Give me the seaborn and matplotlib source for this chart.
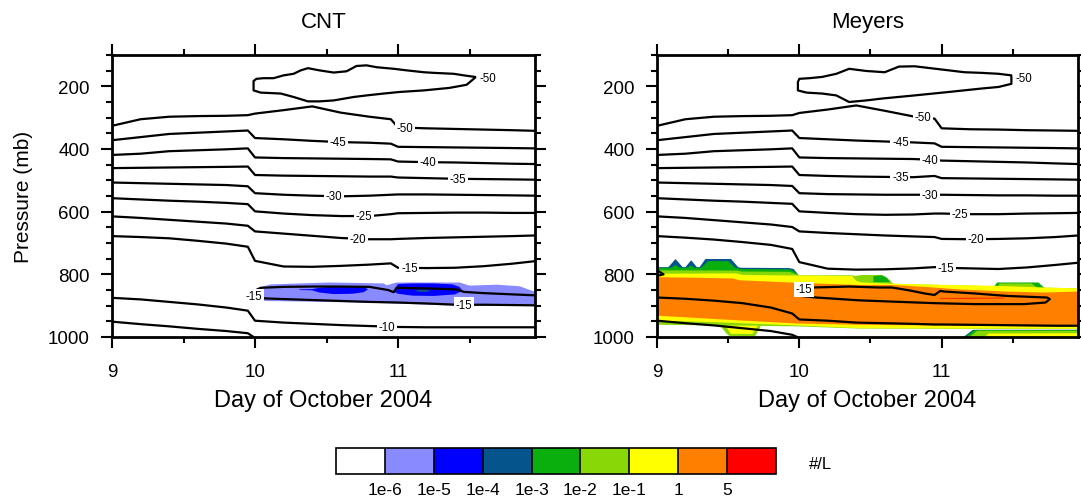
import numpy as np
import matplotlib
matplotlib.use("Agg")
import matplotlib as mpl
import matplotlib.pyplot as plt
from matplotlib.colors import ListedColormap, BoundaryNorm
from matplotlib.ticker import MultipleLocator, FixedLocator
import seaborn as sns

sns.set_theme(style="ticks")
plt.rcParams["font.family"] = ["Liberation Sans", "DejaVu Sans"]
for key in ["text.color", "axes.labelcolor", "xtick.color", "ytick.color", "axes.edgecolor"]:
    plt.rcParams[key] = "black"

# ---------------- data ----------------
days = [9.0, 9.2, 9.4, 9.6, 9.8, 9.95, 10.0, 10.2, 10.4, 10.6, 10.8, 10.95,
        11.0, 11.2, 11.4, 11.6, 11.8, 11.958]

# isotherm pressures (mb) at `days` -- CNT run
cnt_m50 = [326, 305, 297, 295, 294, 292, 287, 276, 264, 284, 297, 305, 331, 334, 336, 338, 340, 342]
cnt_m45 = [372, 362, 352, 348, 344, 341, 365, 369, 374, 378, 380, 383, 393, 394, 395, 396, 397, 398]
cnt_m40 = [419, 415, 407, 404, 401, 398, 427, 429, 430, 431, 432, 433, 440, 442, 443, 445, 447, 448]
cnt_m35 = [461, 460, 459, 458, 457, 456, 483, 485, 486, 487, 488, 488, 491, 493, 495, 496, 497, 498]
cnt_m30 = [507, 509, 511, 513, 515, 519, 541, 546, 549, 551, 549, 546, 545, 545, 546, 547, 548, 549]
cnt_m25 = [557, 561, 565, 568, 572, 576, 599, 606, 611, 614, 614, 608, 605, 604, 603, 603, 604, 604]
cnt_m20 = [615, 620, 626, 632, 638, 645, 663, 670, 677, 684, 688, 688, 687, 684, 682, 680, 678, 676]
cnt_m15 = [678, 681, 685, 693, 702, 712, 757, 775, 776, 773, 769, 765, 779, 780, 779, 774, 766, 758]
cnt_m10 = [875, 880, 888, 896, 906, 916, 948, 954, 958, 962, 965, 967, 968, 969, 969, 969, 969, 969]
cnt_m5_days = [9.0, 9.2, 9.4, 9.6, 9.8, 9.95, 10.0]
cnt_m5 = [951, 959, 966, 974, 981, 988, 1003]

# closed -50 loop aloft (CNT)
cnt_loop_days = [11.54, 11.46, 11.39, 11.25, 11.18, 11.06, 10.97, 10.85, 10.78, 10.71, 10.64, 10.55,
                 10.45, 10.37, 10.32, 10.27, 10.20, 10.13, 10.06, 10.01, 9.99, 9.99, 10.04, 10.18,
                 10.27, 10.37, 10.45, 10.55, 10.69, 10.78, 10.90, 11.01, 11.18, 11.36, 11.48, 11.54]
cnt_loop_p = [170, 165, 160, 157, 155, 149, 144, 139, 133, 135, 152, 156,
              149, 142, 149, 160, 165, 174, 174, 176, 183, 213, 220, 223,
              234, 248, 248, 245, 234, 229, 223, 218, 213, 205, 195, 172]

# -15 tongue near 850 mb (CNT)
cnt_tongue_days = [11.958, 11.80, 11.60, 11.46, 11.41, 11.20, 10.99, 10.97, 10.93, 10.80, 10.60,
                   10.40, 10.20, 10.04, 10.00, 9.99, 10.01, 10.08, 10.40, 10.80, 11.00, 11.20,
                   11.41, 11.60, 11.80, 11.958]
cnt_tongue_p = [867, 864, 860, 856, 848, 845, 843, 857, 850, 840, 839,
                839, 840, 843, 852, 866, 874, 877, 882, 888, 890, 893,
                897, 897, 898, 899]

# isotherm pressures (mb) at `days` -- Meyers run
mey_m50 = [326, 305, 297, 295, 294, 292, 285, 274, 261, 278, 296, 303, 334, 337, 338, 340, 341, 342]
mey_m45 = [372, 362, 352, 348, 344, 341, 365, 369, 373, 376, 379, 382, 393, 394, 395, 396, 397, 398]
mey_m40 = [419, 415, 407, 404, 401, 398, 427, 429, 430, 431, 432, 435, 437, 439, 441, 443, 446, 448]
mey_m35 = [461, 460, 459, 458, 457, 456, 483, 486, 488, 489, 490, 486, 493, 494, 495, 496, 497, 498]
mey_m30 = [507, 509, 511, 513, 515, 518, 541, 544, 545, 546, 546, 546, 546, 547, 548, 548, 549, 549]
mey_m25 = [557, 561, 565, 568, 572, 575, 599, 604, 608, 610, 609, 606, 606, 608, 608, 606, 605, 604]
mey_m20 = [615, 620, 627, 634, 641, 649, 663, 668, 672, 676, 679, 681, 687, 688, 687, 685, 681, 676]
mey_m15 = [678, 683, 689, 697, 706, 719, 761, 782, 785, 784, 781, 777, 779, 781, 783, 778, 770, 763]
mey_m10 = [874, 878, 884, 892, 906, 925, 944, 948, 954, 956, 958, 960, 960, 961, 962, 963, 964, 964]
mey_m5_days = [9.0, 9.2, 9.4, 9.6, 9.8, 9.95, 10.0]
mey_m5 = [948, 956, 963, 972, 981, 993, 1003]
mey_edge_days = [9.0, 9.046, 9.0]
mey_edge_p = [787, 800, 805]

mey_loop_days = [11.49, 11.40, 11.28, 11.16, 11.05, 10.81, 10.70, 10.60, 10.47, 10.35, 10.26, 10.16,
                 10.07, 10.00, 9.99, 9.99, 10.05, 10.16, 10.26, 10.35, 10.47, 10.58, 10.81, 11.05,
                 11.28, 11.40, 11.49, 11.49]
mey_loop_p = [165, 160, 157, 155, 149, 136, 137, 155, 151, 144, 160, 170,
              174, 176, 186, 213, 220, 223, 229, 250, 245, 239, 229, 218,
              207, 202, 192, 170]

mey_tongue_days = [10.03, 10.10, 10.35, 10.56, 10.65, 10.77, 10.88, 10.95, 10.99, 11.02, 11.23,
                   11.46, 11.63, 11.74, 11.76, 11.73, 11.58, 11.23, 10.95, 10.65, 10.42, 10.12,
                   10.01, 10.00, 10.03]
mey_tongue_p = [848, 842, 839, 842, 842, 851, 861, 866, 853, 855, 861,
                869, 872, 874, 879, 890, 895, 895, 892, 887, 883, 874,
                869, 860, 848]

# ice number concentration shading: level index into the colour scale
# CNT
cnt_lb_days = [10.01, 10.11, 10.52, 10.90, 10.92, 10.99, 11.43, 11.50, 11.69, 11.85, 11.958,
               11.958, 11.46, 10.97, 10.76, 10.06, 10.02]
cnt_lb_p = [845, 832, 826, 829, 835, 826, 826, 836, 833, 838, 856,
            900, 901, 893, 890, 885, 870]
cnt_b1_days = [10.31, 10.40, 10.45, 10.55, 10.68, 10.76, 10.79, 10.76, 10.68, 10.55, 10.45, 10.40, 10.31]
cnt_b1_p = [848, 847, 843, 839, 838, 840, 848, 857, 862, 863, 858, 851, 850]
cnt_b2_days = [10.97, 11.00, 11.10, 11.25, 11.38, 11.43, 11.45, 11.40, 11.25, 11.10, 11.00, 10.97]
cnt_b2_p = [852, 831, 829, 829, 832, 840, 852, 864, 869, 868, 862, 855]
cnt_db_days = [11.12, 11.15, 11.20, 11.23, 11.20, 11.15, 11.12]
cnt_db_p = [852, 849, 849, 852, 856, 856, 853]

# Meyers
mey_db_days = [9.00, 9.08, 9.13, 9.18, 9.20, 9.24, 9.28, 9.30, 9.34, 9.52, 9.57, 9.59, 9.93, 9.96, 9.99, 9.99, 9.00]
mey_db_p = [777, 777, 751, 777, 777, 755, 777, 777, 751, 751, 777, 779, 780, 783, 800, 821, 821]
mey_gr_days = [9.00, 9.10, 9.13, 9.16, 9.21, 9.24, 9.26, 9.31, 9.36, 9.50, 9.55, 9.59, 9.93, 9.95, 9.99, 9.99, 9.00]
mey_gr_p = [779, 779, 770, 779, 779, 772, 779, 779, 758, 758, 779, 783, 784, 787, 800, 821, 821]
mey_lg_days = [9.00, 9.56, 9.60, 9.93, 9.98, 10.00, 10.37, 10.65, 11.958, 11.958, 10.42, 9.98, 9.44, 9.00]
mey_lg_p = [787, 788, 791, 792, 800, 803, 803, 830, 845, 975, 973, 966, 963, 961]
mey_p1lg_days = [10.38, 10.44, 10.58, 10.62, 10.66, 10.38]
mey_p1lg_p = [806, 802, 802, 812, 831, 831]
mey_p1gr_days = [10.52, 10.58, 10.61, 10.64, 10.52]
mey_p1gr_p = [806, 803, 810, 825, 825]
mey_p2gr_days = [11.37, 11.39, 11.68, 11.74, 11.37]
mey_p2gr_p = [838, 826, 826, 851, 851]
mey_p2lg_days = [11.39, 11.41, 11.63, 11.70, 11.39]
mey_p2lg_p = [840, 829, 829, 851, 851]
mey_ye_days = [9.00, 9.56, 9.60, 10.00, 10.37, 10.40, 10.44, 10.65, 11.40, 11.72, 11.958,
               11.958, 10.42, 9.98, 9.42, 9.00]
mey_ye_p = [798, 797, 802, 804, 805, 821, 826, 830, 837, 842, 845,
            974, 972, 963, 953, 948]
mey_or_days = [9.00, 9.53, 9.58, 9.98, 10.42, 10.65, 10.88, 11.12, 11.46, 11.72, 11.958,
               11.958, 11.12, 10.42, 9.98, 9.42, 9.00]
mey_or_p = [809, 813, 819, 827, 834, 834, 840, 848, 855, 858, 855,
            967, 964, 961, 957, 943, 932]
mey_bl_lg_days = [9.44, 9.49, 9.51, 9.69, 9.73]
mey_bl_lg_p = [961, 990, 997, 997, 964]
mey_bl_ye_days = [9.48, 9.52, 9.67, 9.71]
mey_bl_ye_p = [964, 990, 990, 964]
mey_br_db_days = [11.15, 11.22, 11.958, 11.958]
mey_br_db_p = [1001, 977, 977, 1001]
mey_br_gr_days = [11.16, 11.23, 11.958, 11.958]
mey_br_gr_p = [1001, 978, 978, 1001]
mey_br_lg_days = [11.19, 11.25, 11.958, 11.958]
mey_br_lg_p = [1001, 980, 980, 1001]
mey_br_ye_days = [11.30, 11.33, 11.958, 11.958]
mey_br_ye_p = [1001, 989, 988, 1001]
mey_red_days = [10.99, 11.20, 11.44, 11.44, 11.20, 10.99]
mey_red_p = [875.5, 875, 874.5, 876.5, 877.5, 877.5]

level_labels = ["1e-6", "1e-5", "1e-4", "1e-3", "1e-2", "1e-1", "1", "5"]
level_colors = ["#FFFFFF", "#8A8AFF", "#0000FF", "#06548C", "#0AAF0E",
                "#88D808", "#FFFF00", "#FF7F00", "#FF0000"]

x_ticks = [9, 10, 11]
y_ticks = [200, 400, 600, 800, 1000]

# ---------------- figure ----------------
W, H = 1081, 502
fig = plt.figure(figsize=(W / 100, H / 100), dpi=100)
ax1 = fig.add_axes([112 / W, 1 - 338 / H, 423 / W, 282 / H])
ax2 = fig.add_axes([657 / W, 1 - 338 / H, 421 / W, 282 / H])

LABEL_FS = 8.3


def contour_label(ax, t_arr, p_arr, t_lab, text):
    p_lab = np.interp(t_lab, t_arr, p_arr)
    ax.text(t_lab, p_lab, text, fontsize=LABEL_FS, ha="center", va="center", zorder=6,
            bbox=dict(boxstyle="square,pad=0.15", fc="white", ec="none"))


def black_line(ax, t_arr, p_arr):
    sns.lineplot(x=t_arr, y=p_arr, ax=ax, color="black", lw=1.6, sort=False,
                 estimator=None, zorder=4)


def style_axes(ax, title):
    ax.set_xlim(9, 11.958)
    ax.set_ylim(1000, 100)
    ax.xaxis.set_major_locator(FixedLocator(x_ticks))
    ax.set_xticklabels([str(v) for v in x_ticks])
    ax.xaxis.set_minor_locator(MultipleLocator(0.5))
    ax.yaxis.set_major_locator(FixedLocator(y_ticks))
    ax.set_yticklabels([str(v) for v in y_ticks])
    ax.yaxis.set_minor_locator(MultipleLocator(50))
    ax.tick_params(which="both", direction="out", top=True, right=True, bottom=True,
                   left=True, color="black", width=1.5)
    ax.tick_params(which="major", length=8, labelsize=13.5, pad=11)
    ax.tick_params(which="minor", length=4)
    ax.tick_params(axis="y", which="major", pad=8)
    for s in ax.spines.values():
        s.set_linewidth(2)
        s.set_color("black")
        s.set_zorder(7)
    ax.set_xlabel("Day of October 2004", fontsize=17, labelpad=6)
    ax.set_title(title, fontsize=16, pad=20)
    ax.grid(False)


# ---- CNT panel ----
for tt, pp, ci in [(cnt_lb_days, cnt_lb_p, 1), (cnt_b1_days, cnt_b1_p, 2),
                   (cnt_b2_days, cnt_b2_p, 2), (cnt_db_days, cnt_db_p, 3)]:
    ax1.fill(tt, pp, color=level_colors[ci], lw=0, zorder=2)

for pp in [cnt_m50, cnt_m45, cnt_m40, cnt_m35, cnt_m30, cnt_m25, cnt_m20, cnt_m15, cnt_m10]:
    black_line(ax1, days, pp)
black_line(ax1, cnt_m5_days, cnt_m5)
black_line(ax1, cnt_loop_days, cnt_loop_p)
black_line(ax1, cnt_tongue_days, cnt_tongue_p)

for pp, tl, txt in [(cnt_m50, 11.05, "-50"), (cnt_m45, 10.58, "-45"), (cnt_m40, 11.21, "-40"),
                    (cnt_m35, 11.42, "-35"), (cnt_m30, 10.55, "-30"), (cnt_m25, 10.76, "-25"),
                    (cnt_m20, 10.72, "-20"), (cnt_m15, 11.08, "-15"), (cnt_m10, 10.92, "-10")]:
    contour_label(ax1, days, pp, tl, txt)
i_tip = int(np.argmax(cnt_loop_days))
contour_label(ax1, [cnt_loop_days[i_tip] + 0.09], [cnt_loop_p[i_tip] + 5],
              cnt_loop_days[i_tip] + 0.09, "-50")
i_left = int(np.argmin(cnt_tongue_days))
contour_label(ax1, [cnt_tongue_days[i_left]], [cnt_tongue_p[i_left] + 4],
              cnt_tongue_days[i_left], "-15")
contour_label(ax1, cnt_tongue_days[i_left:], cnt_tongue_p[i_left:], 11.46, "-15")

style_axes(ax1, "CNT")
ax1.set_ylabel("Pressure (mb)", fontsize=15, labelpad=11)

# ---- Meyers panel ----
for tt, pp, ci in [(mey_db_days, mey_db_p, 3), (mey_gr_days, mey_gr_p, 4),
                   (mey_lg_days, mey_lg_p, 5), (mey_p1lg_days, mey_p1lg_p, 5),
                   (mey_p1gr_days, mey_p1gr_p, 4), (mey_p2gr_days, mey_p2gr_p, 4),
                   (mey_p2lg_days, mey_p2lg_p, 5), (mey_bl_lg_days, mey_bl_lg_p, 5),
                   (mey_br_db_days, mey_br_db_p, 3), (mey_br_gr_days, mey_br_gr_p, 4),
                   (mey_br_lg_days, mey_br_lg_p, 5), (mey_ye_days, mey_ye_p, 6),
                   (mey_bl_ye_days, mey_bl_ye_p, 6), (mey_br_ye_days, mey_br_ye_p, 6),
                   (mey_or_days, mey_or_p, 7), (mey_red_days, mey_red_p, 8)]:
    ax2.fill(tt, pp, color=level_colors[ci], lw=0, zorder=2)

for pp in [mey_m50, mey_m45, mey_m40, mey_m35, mey_m30, mey_m25, mey_m20, mey_m15, mey_m10]:
    black_line(ax2, days, pp)
black_line(ax2, mey_m5_days, mey_m5)
black_line(ax2, mey_loop_days, mey_loop_p)
black_line(ax2, mey_tongue_days, mey_tongue_p)
black_line(ax2, mey_edge_days, mey_edge_p)

for pp, tl, txt in [(mey_m50, 10.87, "-50"), (mey_m45, 10.71, "-45"), (mey_m40, 10.92, "-40"),
                    (mey_m35, 10.71, "-35"), (mey_m30, 10.92, "-30"), (mey_m25, 11.13, "-25"),
                    (mey_m20, 11.24, "-20"), (mey_m15, 11.03, "-15")]:
    contour_label(ax2, days, pp, tl, txt)
i_tip = int(np.argmax(mey_loop_days))
contour_label(ax2, [mey_loop_days[i_tip] + 0.09], [mey_loop_p[i_tip] + 8],
              mey_loop_days[i_tip] + 0.09, "-50")
contour_label(ax2, [mey_tongue_days[0]], [mey_tongue_p[0]], mey_tongue_days[0], "-15")

style_axes(ax2, "Meyers")
ax2.set_ylabel("")

# ---- colour bar ----
cax = fig.add_axes([336 / W, 1 - 475 / H, 440 / W, 26 / H])
cmap = ListedColormap(level_colors)
norm = BoundaryNorm(np.arange(len(level_colors) + 1), len(level_colors))
cb = fig.colorbar(mpl.cm.ScalarMappable(norm=norm, cmap=cmap), cax=cax,
                  orientation="horizontal", drawedges=True,
                  ticks=np.arange(1, len(level_colors)))
cb.set_ticklabels(level_labels)
cb.ax.minorticks_off()
cb.ax.tick_params(which="both", length=0, labelsize=12.5, pad=6)
cb.outline.set_linewidth(1.2)
cb.outline.set_edgecolor("black")
cb.dividers.set_linewidth(1.2)
cb.dividers.set_color("black")
fig.text(820 / W, 1 - 465 / H, "#/L", fontsize=12, ha="center", va="center")

fig.savefig("out.png", dpi=100)
